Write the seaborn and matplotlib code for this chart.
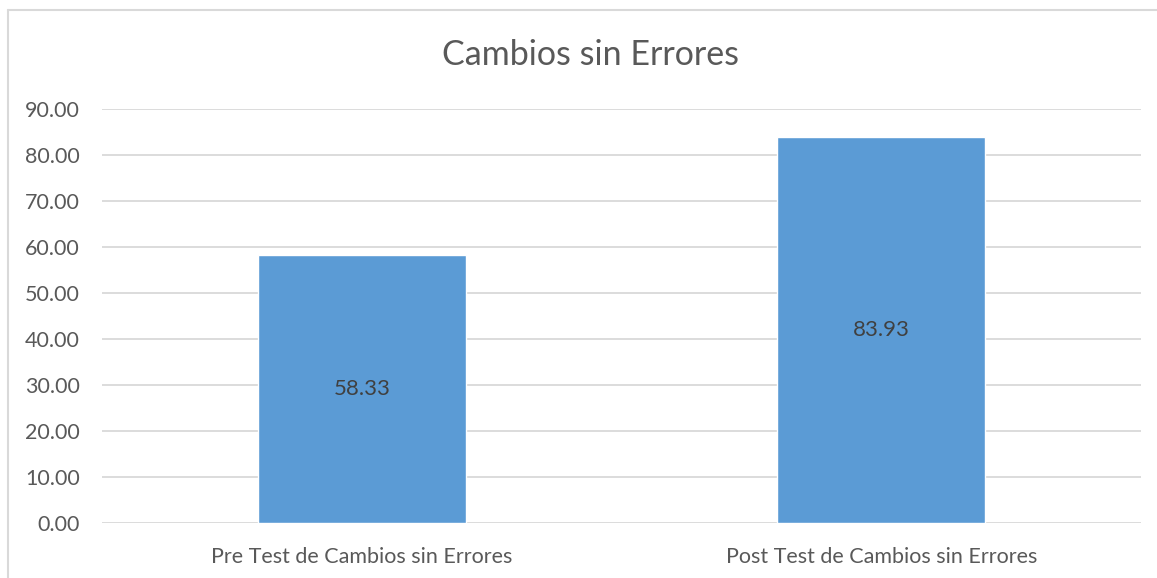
import matplotlib
matplotlib.use("Agg")
import matplotlib.pyplot as plt
import seaborn as sns
import pandas as pd
from matplotlib.lines import Line2D

# -------------data-------------
categories = ["Pre Test de Cambios sin Errores", "Post Test de Cambios sin Errores"]
values = [58.33, 83.93]
yticks = [0, 10, 20, 30, 40, 50, 60, 70, 80, 90]
title = "Cambios sin Errores"

sns.set_style("white")
plt.rcParams['font.family'] = ['Lato', 'DejaVu Sans']

W, H = 1157, 578
fig = plt.figure(figsize=(W / 100, H / 100), dpi=100)
ax = fig.add_axes([102 / W, 1 - 523 / H, (1141 - 102) / W, (523 - 109) / H])

df = pd.DataFrame({"cat": categories, "val": values})
sns.barplot(data=df, x="cat", y="val", color="#5B9BD5", saturation=1, width=0.4, ax=ax, zorder=3)

ax.set_ylim(0, 90)
ax.set_xlim(-0.5, 1.5)
ax.set_yticks(yticks)
ax.set_yticklabels([f"{t:.2f}" for t in yticks], fontsize=15.5, color="#595959")
ax.tick_params(axis='x', labelsize=15.5, labelcolor="#595959", length=0, pad=17)
ax.tick_params(axis='y', length=0, pad=16)
ax.yaxis.grid(True, color="#D9D9D9", linewidth=1.3, zorder=0)
ax.set_axisbelow(True)
for s in ["top", "right", "left", "bottom"]:
    ax.spines[s].set_visible(False)
ax.set_xlabel("")
ax.set_ylabel("")

# labels in the middle of the bars
for i, v in enumerate(values):
    ax.text(i, v / 2, f"{v:.2f}", ha="center", va="center", fontsize=16, color="#404040", zorder=4)

fig.text(590 / W, 1 - 55 / H, title, ha="center", va="center", fontsize=24.5, color="#595959")

# chart border (only left and top edges are visible in the crop)
fig.add_artist(Line2D([8 / W, 8 / W], [0, 1 - 10 / H], transform=fig.transFigure, color="#D9D9D9", linewidth=1.5))
fig.add_artist(Line2D([8 / W, 1], [1 - 10 / H, 1 - 10 / H], transform=fig.transFigure, color="#D9D9D9", linewidth=1.5))

fig.savefig("out.png", dpi=100)
